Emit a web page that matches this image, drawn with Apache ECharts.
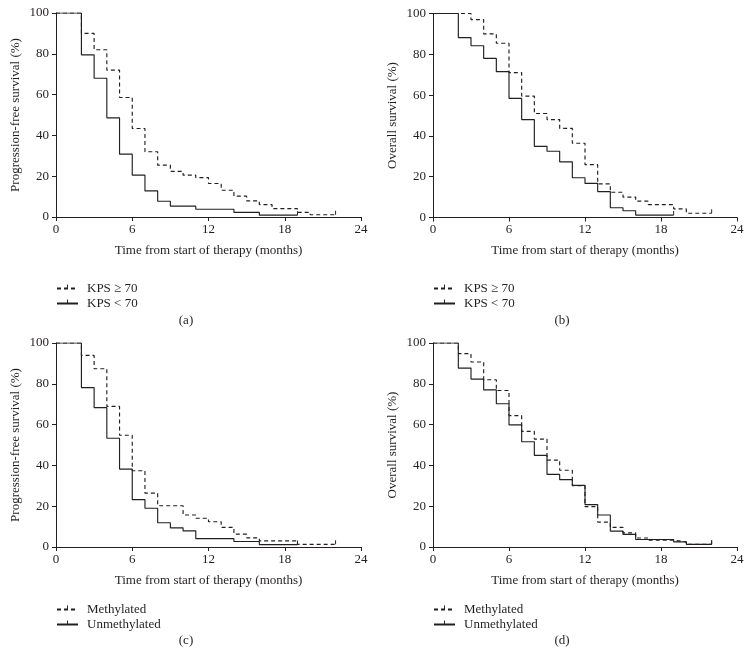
<!DOCTYPE html>
<html>
<head>
<meta charset="utf-8">
<script src="https://cdn.jsdelivr.net/npm/echarts@6/dist/echarts.min.js"></script>
<style>
html,body{margin:0;padding:0;background:#fff;}
#chart{width:752px;height:664px;}
</style>
</head>
<body>
<div id="chart"></div>
<script>
// ---------- data (months, survival %) ----------
const xTicks = [0, 6, 12, 18, 24];
const yTicks = [0, 20, 40, 60, 80, 100];
const xTitle = 'Time from start of therapy (months)';
const yTitlePFS = 'Progression-free survival (%)';
const yTitleOS = 'Overall survival (%)';
const panelLabels = ['(a)', '(b)', '(c)', '(d)'];
const groupNamesKPS = ['KPS \u2265 70', 'KPS < 70'];
const groupNamesMGMT = ['Methylated', 'Unmethylated'];

// (a) PFS by KPS
const aHighT = [0, 2, 3, 4, 5, 6, 7, 8, 9, 10, 11, 12, 13, 14, 15, 16, 17, 19, 20, 22];
const aHighS = [100, 90, 82, 72, 58.6, 43.4, 32, 25.4, 22.4, 20.5, 19.3, 16.4, 13.1, 10.2, 7.9, 6.1, 4.1, 2.3, 1.1, 1.1];
const aLowT = [0, 2, 3, 4, 5, 6, 7, 8, 9, 11, 14, 16, 19];
const aLowS = [100, 79.5, 68, 48.6, 30.8, 20.5, 12.8, 7.7, 5.3, 3.8, 2.3, 0.9, 0.9];

// (b) OS by KPS
const bHighT = [0, 3, 4, 5, 6, 7, 8, 9, 10, 11, 12, 13, 14, 15, 16, 17, 19, 20, 22];
const bHighS = [100, 97, 90, 85.4, 71, 59.5, 51, 48, 43.7, 36.4, 25.9, 16.5, 12.4, 10, 8, 6.3, 4.2, 2.1, 2.1];
const bLowT = [0, 2, 3, 4, 5, 6, 7, 8, 9, 10, 11, 12, 13, 14, 15, 16, 19];
const bLowS = [100, 88.2, 84.2, 78, 71.5, 58.4, 48, 34.9, 32.5, 27.3, 19.5, 16.7, 12.7, 4.8, 3.3, 1.2, 1.2];

// (c) PFS by MGMT methylation
const cMethT = [0, 2, 3, 4, 5, 6, 7, 8, 10, 11, 12, 13, 14, 15, 16, 19, 22];
const cMethS = [100, 93.9, 87.4, 68.9, 54.8, 37.4, 26.4, 20.2, 15.7, 14.1, 12.4, 9.6, 6.3, 4.5, 3, 1.3, 1.3];
const cUnmT = [0, 2, 3, 4, 5, 6, 7, 8, 9, 10, 11, 14, 16, 19];
const cUnmS = [100, 78.1, 68.3, 53.3, 38.2, 23.2, 19, 11.9, 9.4, 7.9, 4.1, 2.7, 1.2, 1.2];

// (d) OS by MGMT methylation
const dMethT = [0, 2, 3, 4, 5, 6, 7, 8, 9, 10, 11, 12, 13, 14, 15, 16, 17, 19, 20, 22];
const dMethS = [100, 94.8, 90.7, 82, 76.7, 64.4, 56.7, 52.9, 42.6, 37.6, 30.1, 19.8, 12.2, 9.6, 6.9, 4.4, 3.3, 2.5, 1.3, 1.3];
const dUnmT = [0, 2, 3, 4, 5, 6, 7, 8, 9, 10, 11, 12, 13, 14, 15, 16, 19, 20, 22];
const dUnmS = [100, 87.7, 82.3, 77, 70.2, 59.9, 51.6, 44.9, 35.6, 33, 30.2, 20.8, 15.7, 7.8, 6.2, 3.7, 2.5, 1.3, 1.3];

// ---------- styling / layout ----------
const INK = '#231f20';
const FONT = 'Liberation Serif';
const TICK = 'path://M0,10L10,10Z M4.4,0h1.2v5h-1.2Z';
const grids = [
  {left: 56, top: 13, width: 305, height: 204},
  {left: 433, top: 13.5, width: 304, height: 204},
  {left: 56, top: 343, width: 305, height: 204},
  {left: 433, top: 343, width: 304, height: 204}
];

function toData(T, S) {
  return T.map((t, i) => {
    const item = {value: [t, S[i]]};
    if (i !== T.length - 1) item.symbol = 'none';
    return item;
  });
}

function kmSeries(name, T, S, idx, dashed) {
  return {
    type: 'line', name: name, step: 'end',
    xAxisIndex: idx, yAxisIndex: idx,
    data: toData(T, S),
    symbol: TICK, symbolSize: 8, showSymbol: true,
    itemStyle: {color: INK},
    lineStyle: {color: INK, width: 1.15, type: dashed ? [4, 3] : 'solid'},
    emphasis: {disabled: true}, silent: true, z: dashed ? 3 : 2
  };
}

const xAxes = grids.map((g, i) => ({
  type: 'value', gridIndex: i, min: 0, max: 24, interval: 6,
  axisLine: {show: true, lineStyle: {color: INK, width: 1}},
  axisTick: {show: true, length: 4, lineStyle: {color: INK}},
  splitLine: {show: false},
  axisLabel: {color: INK, fontFamily: FONT, fontSize: 13, margin: 6,
    formatter: v => xTicks.includes(v) ? String(v) : ''},
  name: xTitle, nameLocation: 'middle', nameGap: 27,
  nameTextStyle: {color: INK, fontFamily: FONT, fontSize: 13}
}));
const yAxes = grids.map((g, i) => ({
  type: 'value', gridIndex: i, min: 0, max: 100, interval: 20,
  axisLine: {show: true, lineStyle: {color: INK, width: 1}},
  axisTick: {show: true, length: 4, lineStyle: {color: INK}},
  splitLine: {show: false},
  axisLabel: {color: INK, fontFamily: FONT, fontSize: 13, margin: 7,
    formatter: v => yTicks.includes(v) ? String(v) : ''},
  name: (i % 2 === 0) ? yTitlePFS : yTitleOS, nameLocation: 'middle', nameGap: 34,
  nameTextStyle: {color: INK, fontFamily: FONT, fontSize: 13}
}));

const series = [
  kmSeries(groupNamesKPS[0], aHighT, aHighS, 0, true),
  kmSeries(groupNamesKPS[1], aLowT, aLowS, 0, false),
  kmSeries(groupNamesKPS[0], bHighT, bHighS, 1, true),
  kmSeries(groupNamesKPS[1], bLowT, bLowS, 1, false),
  kmSeries(groupNamesMGMT[0], cMethT, cMethS, 2, true),
  kmSeries(groupNamesMGMT[1], cUnmT, cUnmS, 2, false),
  kmSeries(groupNamesMGMT[0], dMethT, dMethS, 3, true),
  kmSeries(groupNamesMGMT[1], dUnmT, dUnmS, 3, false)
];

const legendTops = [282, 282, 603, 603];
const legends = grids.map((g, i) => ({
  orient: 'vertical', left: g.left, top: legendTops[i], padding: 0,
  data: i < 2 ? groupNamesKPS : groupNamesMGMT,
  itemWidth: 21, itemHeight: 10, itemGap: 2,
  selectedMode: false,
  textStyle: {color: INK, fontFamily: FONT, fontSize: 13, padding: [0, 0, 0, 4]}
}));

const captionPos = [[186, 321], [562, 321], [186, 641], [562, 641]];
const titles = panelLabels.map((t, i) => ({
  text: t, left: captionPos[i][0], top: captionPos[i][1], textAlign: 'center', textVerticalAlign: 'middle',
  padding: 0,
  textStyle: {color: INK, fontFamily: FONT, fontSize: 13, fontWeight: 'normal'}
}));

const chart = echarts.init(document.getElementById('chart'), null, {renderer: 'canvas'});
chart.setOption({
  animation: false,
  backgroundColor: '#fff',
  title: titles,
  legend: legends,
  grid: grids,
  xAxis: xAxes,
  yAxis: yAxes,
  series: series
});
</script>
</body>
</html>
